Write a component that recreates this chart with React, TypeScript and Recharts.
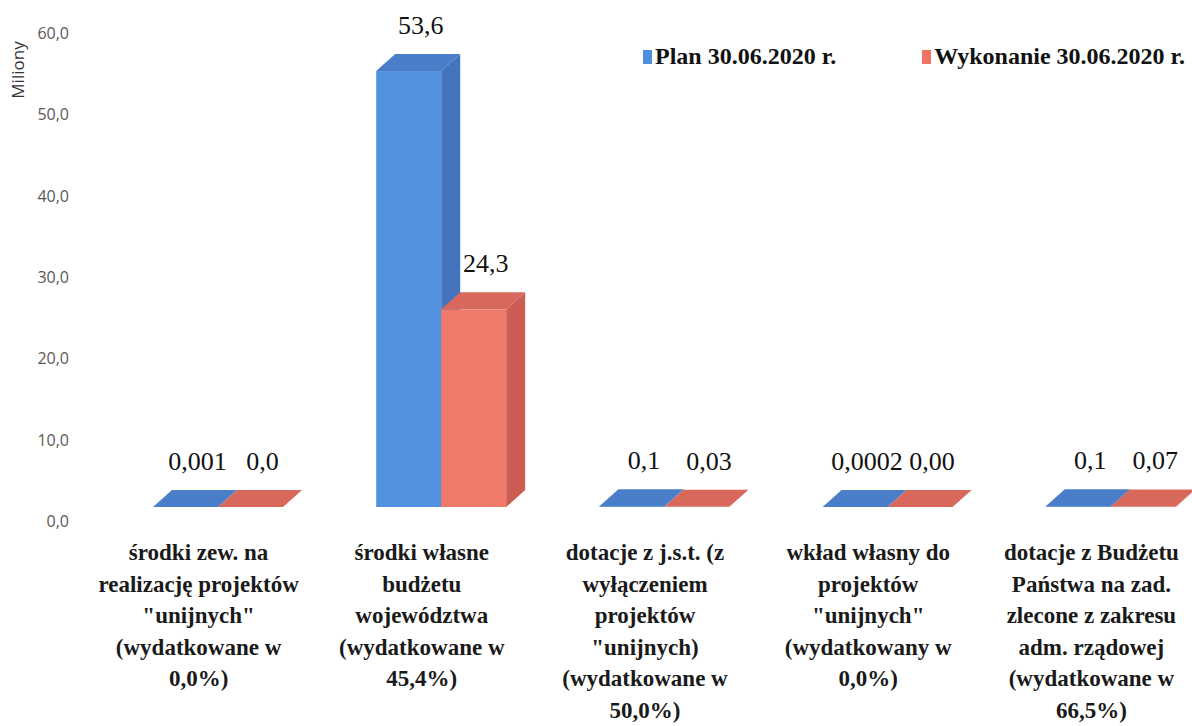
import { BarChart, Bar, XAxis, YAxis, LabelList } from "recharts";

const categories = [
  'środki zew. na\nrealizację projektów\n"unijnych"\n(wydatkowane w\n0,0%)',
  "środki własne\nbudżetu\nwojewództwa\n(wydatkowane w\n45,4%)",
  'dotacje z j.s.t. (z\nwyłączeniem\nprojektów\n"unijnych)\n(wydatkowane w\n50,0%)',
  'wkład własny do\nprojektów\n"unijnych"\n(wydatkowany w\n0,0%)',
  "dotacje z Budżetu\nPaństwa na zad.\nzlecone z zakresu\nadm. rządowej\n(wydatkowane w\n66,5%)",
];
const planValues = [0.001, 53.6, 0.1, 0.0002, 0.1];
const execValues = [0.0, 24.3, 0.03, 0.0, 0.07];
const planLabels = ["0,001", "53,6", "0,1", "0,0002", "0,1"];
const execLabels = ["0,0", "24,3", "0,03", "0,00", "0,07"];
const yTicks = [0, 10, 20, 30, 40, 50, 60];

const data = categories.map((name, i) => ({
  name,
  plan: planValues[i],
  exec: execValues[i],
  planLabel: planLabels[i],
  execLabel: execLabels[i],
}));

// fake 3d: front face shifted, plus depth offset for top/side faces
const SHIFT_X = 19;
const SHIFT_Y = -15;
const DX = 19;
const DY = -17;

const serif = "'Liberation Serif', 'Times New Roman', serif";

function makeBox(front: string, top: string, side: string) {
  return (props: any) => {
    const { x, y, width, height } = props;
    const x0 = x + SHIFT_X;
    const y0 = y + SHIFT_Y;
    const h = Math.max(height || 0, 0);
    const x1 = x0 + width;
    const yb = y0 + h;
    return (
      <g>
        {h > 0.5 && <rect x={x0} y={y0} width={width} height={h} fill={front} />}
        {h > 0.5 && (
          <polygon
            points={`${x1},${y0} ${x1 + DX},${y0 + DY} ${x1 + DX},${yb + DY} ${x1},${yb}`}
            fill={side}
          />
        )}
        <polygon
          points={`${x0},${y0} ${x0 + DX},${y0 + DY} ${x1 + DX},${y0 + DY} ${x1},${y0}`}
          fill={top}
        />
      </g>
    );
  };
}

const renderValue = (props: any) => {
  const { x, y, width, value } = props;
  const cx = x + SHIFT_X + width / 2 + 12;
  const base = y + SHIFT_Y + DY - 20;
  return (
    <text x={cx} y={base} textAnchor="middle" fontFamily={serif} fontSize={26} fill="#111">
      {value}
    </text>
  );
};

const CategoryTick = (props: any) => {
  const { x, y, payload } = props;
  const lines = String(payload.value).split("\n");
  return (
    <text x={x} y={y} textAnchor="middle" fontFamily={serif} fontWeight="bold" fontSize={23} fill="#1a1a1a">
      {lines.map((l, i) => (
        <tspan key={i} x={x} dy={i === 0 ? 30 : 31.5}>
          {l}
        </tspan>
      ))}
    </text>
  );
};

const ValueTick = (props: any) => {
  const { y, payload } = props;
  return (
    <text x={69} y={y} dy={5} textAnchor="end" fontFamily="'Open Sans', sans-serif" fontSize={16} fill="#595959">
      {payload.value.toFixed(1).replace(".", ",")}
    </text>
  );
};

const legendItems = [
  { label: "Plan 30.06.2020 r.", color: "#4f8fe0" },
  { label: "Wykonanie 30.06.2020 r.", color: "#ee7565" },
];

export default function App() {
  return (
    <div style={{ position: "absolute", left: 0, top: 0, width: 1192, height: 726, overflow: "hidden", background: "#fff" }}>
      <svg width={30} height={120} style={{ position: "absolute", left: 0, top: 0 }}>
        <text
          x={24}
          y={70}
          transform="rotate(-90 24 70)"
          textAnchor="middle"
          fontFamily="'Open Sans', sans-serif"
          fontSize={17}
          fill="#333"
        >
          Miliony
        </text>
      </svg>
      <div
        style={{
          position: "absolute",
          left: 643,
          top: 43,
          display: "flex",
          gap: 86,
          fontFamily: serif,
          fontWeight: "bold",
          fontSize: 24,
          color: "#111",
          zIndex: 2,
          whiteSpace: "nowrap",
        }}
      >
        {legendItems.map((it) => (
          <div key={it.label} style={{ display: "flex", alignItems: "center" }}>
            <span style={{ display: "inline-block", width: 9, height: 14, background: it.color, marginRight: 3 }} />
            {it.label}
          </div>
        ))}
      </div>
      <BarChart
        width={1203}
        height={726}
        data={data}
        margin={{ top: 34, right: 0, bottom: 0, left: 0 }}
        barCategoryGap={47}
        barGap={0}
      >
        <XAxis dataKey="name" axisLine={false} tickLine={false} height={204} interval={0} tick={<CategoryTick />} />
        <YAxis
          domain={[0, 60]}
          ticks={yTicks}
          axisLine={false}
          tickLine={false}
          width={87}
          tick={<ValueTick />}
        />
        <Bar dataKey="plan" isAnimationActive={false} shape={makeBox("#5291de", "#4a7ec8", "#4474bd")}>
          <LabelList dataKey="planLabel" content={renderValue} />
        </Bar>
        <Bar dataKey="exec" isAnimationActive={false} shape={makeBox("#f07a69", "#d9685c", "#cc5d53")}>
          <LabelList dataKey="execLabel" content={renderValue} />
        </Bar>
      </BarChart>
    </div>
  );
}
